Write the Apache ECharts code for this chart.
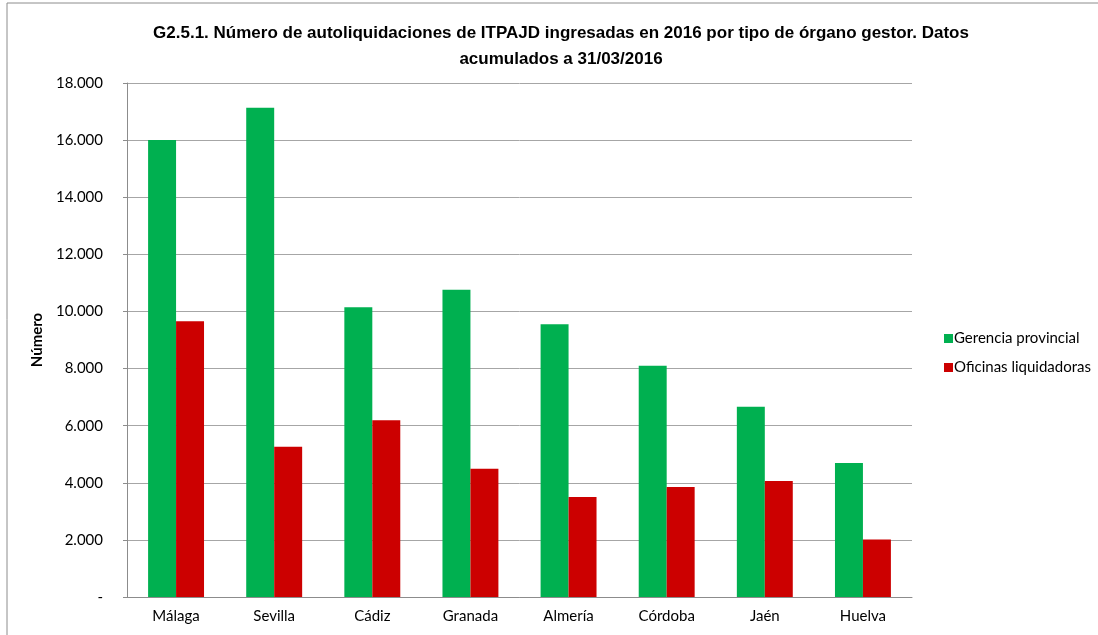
<!DOCTYPE html>
<html>
<head>
<meta charset="utf-8">
<script src="https://cdn.jsdelivr.net/npm/echarts@6/dist/echarts.min.js"></script>
<style>
  html, body { margin: 0; padding: 0; background: #fff; }
  #chart { width: 1098px; height: 635px; }
</style>
</head>
<body>
<div id="chart"></div>
<script>
// Provincias (categorías del eje X)
const provincias = ['Málaga', 'Sevilla', 'Cádiz', 'Granada', 'Almería', 'Córdoba', 'Jaén', 'Huelva'];
// Autoliquidaciones por órgano gestor
const gerenciaProvincial = [16000, 17130, 10150, 10760, 9550, 8100, 6660, 4690];
const oficinasLiquidadoras = [9660, 5260, 6190, 4490, 3500, 3850, 4060, 2010];
const nombresSeries = ['Gerencia provincial', 'Oficinas liquidadoras'];
const tituloGrafico = 'G2.5.1. Número de autoliquidaciones de ITPAJD ingresadas en 2016 por tipo de órgano gestor. Datos\nacumulados a 31/03/2016';

const labelFont = 'Lato, "Open Sans", sans-serif';

function formatoNumero(v) {
  if (v === 0) return '-';
  return String(v).replace(/\B(?=(\d{3})+(?!\d))/g, '.');
}

const chart = echarts.init(document.getElementById('chart'), null, { renderer: 'canvas' });
chart.setOption({
  backgroundColor: '#ffffff',
  animation: false,
  title: {
    text: tituloGrafico,
    left: 556,
    top: 15,
    textAlign: 'center',
    textStyle: {
      fontFamily: '"Liberation Sans", sans-serif',
      fontWeight: 'bold',
      fontSize: 17,
      lineHeight: 26,
      color: '#000'
    }
  },
  graphic: [{
    type: 'rect',
    shape: { x: 7, y: 3, width: 1100, height: 640 },
    style: { fill: 'none', stroke: '#8c8c8c', lineWidth: 1 },
    silent: true
  }],
  legend: {
    orient: 'vertical',
    left: 939,
    top: 326,
    itemWidth: 9,
    itemHeight: 9,
    itemGap: 14,
    icon: 'rect',
    textStyle: { fontFamily: labelFont, fontSize: 15, color: '#000', padding: [0, 0, 0, -4] },
    data: nombresSeries
  },
  grid: { left: 127, right: 186, top: 83, bottom: 38, containLabel: false },
  xAxis: {
    type: 'category',
    data: provincias,
    axisLine: { lineStyle: { color: '#8c8c8c', width: 1 } },
    axisTick: { show: false },
    axisLabel: { fontFamily: labelFont, fontSize: 15, color: '#000', margin: 12 }
  },
  yAxis: {
    type: 'value',
    min: 0,
    max: 18000,
    interval: 2000,
    name: 'Número',
    nameLocation: 'middle',
    nameGap: 80,
    nameRotate: 90,
    nameTextStyle: { fontFamily: labelFont, fontSize: 15, fontWeight: 'bold', color: '#000' },
    axisLine: { show: true, lineStyle: { color: '#8c8c8c', width: 1 } },
    axisTick: { show: true, inside: false, length: 4, lineStyle: { color: '#8c8c8c' } },
    axisLabel: { fontFamily: labelFont, fontSize: 15, color: '#000', margin: 24, formatter: formatoNumero },
    splitLine: { lineStyle: { color: '#a6a6a6', width: 1 } }
  },
  series: [
    {
      name: nombresSeries[0],
      type: 'bar',
      data: gerenciaProvincial,
      barGap: '0%',
      barCategoryGap: '43%',
      itemStyle: { color: '#00b050' }
    },
    {
      name: nombresSeries[1],
      type: 'bar',
      data: oficinasLiquidadoras,
      barGap: '0%',
      barCategoryGap: '43%',
      itemStyle: { color: '#cc0000' }
    }
  ]
});
</script>
</body>
</html>
